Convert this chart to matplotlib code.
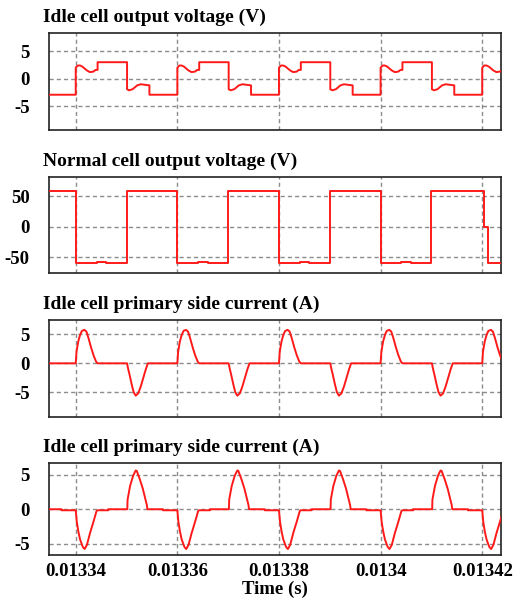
import numpy as np
import matplotlib
matplotlib.use('Agg')
import matplotlib.pyplot as plt

plt.rcParams['font.family'] = 'Liberation Serif'
plt.rcParams['font.weight'] = 'bold'

# time axis in microseconds
period_starts = [13320, 13340, 13360, 13380, 13400, 13420]
xticks = [13340, 13360, 13380, 13400, 13420]
xtick_labels = ['0.01334', '0.01336', '0.01338', '0.0134', '0.01342']

titles = ['Idle cell output voltage (V)', 'Normal cell output voltage (V)',
          'Idle cell primary side current (A)', 'Idle cell primary side current (A)']

# idle cell output voltage, one period (offset us, value V)
idle_v_t = [0, 0, 0.4, 0.85, 1.3, 2.2, 2.8, 3.5, 3.9, 4.3, 4.3,
            10.1, 10.1, 10.5, 11.2, 12.1, 12.8, 13.6, 14.5, 14.5, 20]
idle_v_y = [-2.9, 2.0, 2.4, 2.4, 2.2, 1.5, 1.2, 1.3, 1.6, 1.6, 3.0,
            3.0, -1.9, -2.1, -1.9, -1.2, -1.0, -1.1, -1.2, -2.9, -2.9]

# normal cell output voltage (edge times us, level V)
norm_t = [13330, 13340, 13344.1, 13346, 13350,
          13360, 13364.1, 13366, 13370,
          13380, 13384.1, 13386, 13390,
          13400, 13404.1, 13406, 13410,
          13420.3, 13421.2, 13430]
norm_y = [58.5, -60, -57, -60, 58.5,
          -60, -57, -60, 58.5,
          -60, -57, -60, 58.5,
          -60, -57, -60, 58.5,
          -1, -60, -60]

# idle cell primary current, panel 3, one period
cur_a_t = [0, 0.15, 0.5, 0.85, 1.2, 1.7, 2.1, 2.5, 3.0, 3.5, 4.0, 4.3,
           10.1, 10.3, 10.6, 11.0, 11.4, 11.8, 12.3, 12.8, 13.3, 13.8, 14.2, 20]
cur_a_y = [0, 2.0, 3.8, 4.9, 5.6, 5.8, 5.5, 4.4, 2.8, 1.4, 0.3, 0,
           0, -0.9, -2.0, -3.6, -5.0, -5.6, -5.2, -4.0, -2.5, -1.0, 0, 0]

# idle cell primary current, panel 4, one period
cur_b_t = [0, 0.2, 0.5, 0.85, 1.4, 1.75, 2.2, 2.8, 3.5, 4.1, 4.3, 6.4, 6.4,
           10.15, 10.2, 10.7, 11.3, 11.8, 12.0, 12.6, 13.2, 13.7, 14.0, 14.1,
           17.2, 17.2, 20]
cur_b_y = [-0.15, -1.8, -3.2, -4.4, -5.5, -5.8, -5.2, -3.5, -1.8, -0.25, -0.15, -0.15, 0,
           0, 1.4, 3.4, 4.9, 5.65, 5.6, 4.4, 3.0, 1.5, 0.6, 0,
           0, -0.15, -0.15]


def tile(offs, vals):
    t, y = [], []
    for s in period_starts:
        t += [s + o for o in offs]
        y += vals
    return t, y


rects = [[0.093, 0.7844, 0.8577, 0.1609],
         [0.093, 0.5468, 0.8577, 0.1592],
         [0.093, 0.3089, 0.8577, 0.1604],
         [0.093, 0.0796, 0.8577, 0.1521]]
ylims = [(-9.3, 8.3), (-76, 81), (-9.25, 7.5), (-6.67, 6.7)]
yticks = [[-5, 0, 5], [-50, 0, 50], [-5, 0, 5], [-5, 0, 5]]

fig = plt.figure(figsize=(5.27, 6.03), dpi=100)

series = [tile(idle_v_t, idle_v_y), (norm_t, norm_y),
          tile(cur_a_t, cur_a_y), tile(cur_b_t, cur_b_y)]

for i in range(4):
    ax = fig.add_axes(rects[i])
    t, y = series[i]
    if i == 1:
        ax.plot(t, y, color='#ff1a1a', lw=1.4, drawstyle='steps-post', zorder=3)
    else:
        ax.plot(t, y, color='#ff1a1a', lw=1.4, zorder=3)
    ax.set_xlim(13334.74, 13423.7)
    ax.set_ylim(*ylims[i])
    ax.set_yticks(yticks[i])
    ax.set_yticklabels([str(v) for v in yticks[i]])
    ax.set_xticks(xticks)
    if i == 3:
        ax.set_xticklabels(xtick_labels)
        ax.set_xlabel('Time (s)', fontsize=13.5, fontweight='bold', labelpad=0)
    else:
        ax.set_xticklabels([])
    ax.tick_params(length=0, labelsize=13.5, pad=6)
    ax.tick_params(axis='y', pad=14)
    ax.grid(True, color='#8c8c8c', lw=1, linestyle=(0, (3, 2.2)))
    for sp in ax.spines.values():
        sp.set_linewidth(1.2)
        sp.set_color('#222222')
    ax.annotate(titles[i], xy=(0, 1), xycoords='axes fraction',
                xytext=(-4.5, 8), textcoords='offset points',
                ha='left', va='baseline', fontsize=14, fontweight='bold')

plt.savefig('out.png', dpi=100)
